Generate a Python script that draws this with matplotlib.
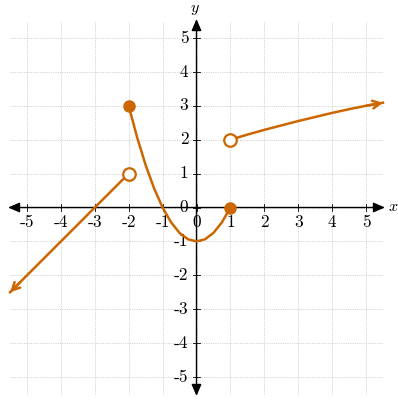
import matplotlib
matplotlib.use("Agg")
import matplotlib.pyplot as plt

plt.rcParams["mathtext.fontset"] = "cm"

# ---- data ----
ticks = [-5, -4, -3, -2, -1, 0, 1, 2, 3, 4, 5]
tick_labels = [str(t) for t in ticks]

# left piece: straight line, open circle at (-2, 1), arrow towards lower-left
left_x = [-2.0, -5.5]
left_y = [1.0, -2.5]

# middle piece: parabola from closed (-2, 3) to (1, 0)
mid_x = [-2.0, -1.75, -1.5, -1.25, -1.0, -0.75, -0.5, -0.25, 0.0, 0.25, 0.5, 0.75, 1.0]
mid_y = [3.0, 2.0625, 1.25, 0.5625, 0.0, -0.4375, -0.75, -0.9375, -1.0, -0.9375, -0.75, -0.4375, 0.0]

# right piece: open circle at (1, 2), arrow towards upper-right
right_x = [1.0, 1.5, 2.0, 2.5, 3.0, 3.5, 4.0, 4.5, 5.0, 5.5]
right_y = [2.0, 2.15, 2.29, 2.42, 2.55, 2.67, 2.79, 2.90, 3.0, 3.09]

closed_pts_x = [-2, 1]
closed_pts_y = [3, 0]
open_pts_x = [-2, 1]
open_pts_y = [1, 2]

color = "#cc6600"

fig = plt.figure(figsize=(3.98, 4.0), dpi=100)
ax = fig.add_axes([0, 0, 1, 1])
sx = 33.9
cx, cy = 196.5, 207.5
ax.set_xlim(-cx / sx, (398 - cx) / sx)
ax.set_ylim(-(400 - cy) / sx, cy / sx)
ax.axis("off")

# grid
g = 5.5
for t in ticks:
    ax.plot([t, t], [-g, g], color="#d0d0d0", lw=0.6, ls=(0, (1.5, 1.2)), zorder=0)
    ax.plot([-g, g], [t, t], color="#d0d0d0", lw=0.6, ls=(0, (1.5, 1.2)), zorder=0)

# axes with arrows
L = 5.56
ap = dict(arrowstyle="-|>,head_length=0.7,head_width=0.3", color="black", lw=1.0,
          shrinkA=0, shrinkB=0)
for end in [(L, 0), (-L, 0), (0, L), (0, -L)]:
    ax.annotate("", xy=end, xytext=(0, 0), arrowprops=ap, zorder=2)

ax.text(L + 0.1, 0.02, "$x$", fontsize=11.5, ha="left", va="center")
ax.text(-0.05, 5.83, "$y$", fontsize=11.5, ha="center", va="center")

tk = 0.09
fp = dict(family="cmr10", fontsize=12.5)
for t, lab in zip(ticks, tick_labels):
    ax.plot([t, t], [-tk, tk], color="black", lw=0.6, zorder=2)
    ax.plot([-tk, tk], [t, t], color="black", lw=0.6, zorder=2)
    ax.text(t, -0.22, lab, ha="center", va="top", **fp)
    ax.text(-0.24, t, lab, ha="right", va="center", **fp)

# curves
lw = 1.8
ax.plot(left_x, left_y, color=color, lw=lw, zorder=3)
ax.plot(mid_x, mid_y, color=color, lw=lw, zorder=3, solid_capstyle="round")
ax.plot(right_x, right_y, color=color, lw=lw, zorder=3)

cap = dict(arrowstyle="->,head_length=0.55,head_width=0.28", color=color, lw=lw,
           shrinkA=0, shrinkB=0)
ax.annotate("", xy=(left_x[-1], left_y[-1]), xytext=(left_x[-1] + 0.3, left_y[-1] + 0.3),
            arrowprops=cap, zorder=4)
ax.annotate("", xy=(right_x[-1], right_y[-1]), xytext=(right_x[-2], right_y[-2]),
            arrowprops=cap, zorder=4)

ax.plot(closed_pts_x, closed_pts_y, "o", color=color, ms=8, zorder=5)
ax.plot(open_pts_x, open_pts_y, "o", mfc="white", mec=color, mew=1.6, ms=9, zorder=5)

fig.savefig("out.png", dpi=100)
